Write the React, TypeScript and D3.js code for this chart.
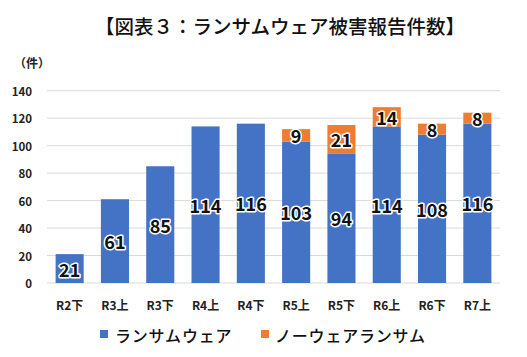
import React from "react";
import * as d3 from "d3";

const categories = ["R2下", "R3上", "R3下", "R4上", "R4下", "R5上", "R5下", "R6上", "R6下", "R7上"];
const ransomware = [21, 61, 85, 114, 116, 103, 94, 114, 108, 116];
const noware = [0, 0, 0, 0, 0, 9, 21, 14, 8, 8];
const yTicks = [0, 20, 40, 60, 80, 100, 120, 140];
const seriesNames = ["ランサムウェア", "ノーウェアランサム"];
const colors = ["#4472C4", "#ED7D31"];
const title = "【図表３：ランサムウェア被害報告件数】";

export default function App() {
  const W = 527, H = 357;
  const left = 47, right = 500, top = 90.7, bottom = 283;
  const x = d3.scaleBand<string>().domain(categories).range([left, right]).paddingInner(0.38).paddingOuter(0.19);
  const y = d3.scaleLinear().domain([0, 140]).range([bottom, top]);
  const font = "'Noto Sans CJK JP', 'Noto Sans', sans-serif";
  const stack = d3.stack<number>().keys(["a", "b"]).value((i, k) => (k === "a" ? ransomware[i] : noware[i]));
  const series = stack(d3.range(categories.length));

  const label = (v: number, cx: number, cy: number, key: string) => (
    <text key={key} x={cx} y={cy} textAnchor="middle" dominantBaseline="central"
      fontFamily={font} fontWeight={700} fontSize={18} fill="#111"
      stroke="#fff" strokeWidth={3} paintOrder="stroke" strokeLinejoin="round">{v}</text>
  );

  return (
    <svg width={W} height={H} style={{ position: "absolute", left: 0, top: 0, background: "#fff" }}>
      <text x={280} y={34} textAnchor="middle" fontFamily={font} fontSize={19.5} fontWeight={500} fill="#111">{title}</text>
      <text x={14} y={68} fontFamily={font} fontSize={12} fontWeight={700} fill="#222">（件）</text>
      {yTicks.map((t) => (
        <g key={t}>
          <line x1={left} x2={right} y1={y(t)} y2={y(t)} stroke="#d9d9d9" strokeWidth={1} />
          <text x={32} y={y(t)} textAnchor="end" dominantBaseline="central" fontFamily={font} fontSize={11.5} fontWeight={700} fill="#222">{t}</text>
        </g>
      ))}
      {series.map((s, si) =>
        s.map((d, i) => {
          const h = y(d[0]) - y(d[1]);
          if (h <= 0) return null;
          return <rect key={`${si}-${i}`} x={x(categories[i])} y={y(d[1])} width={x.bandwidth()} height={h} fill={colors[si]} />;
        })
      )}
      {series.map((s, si) =>
        s.map((d, i) => {
          const v = d[1] - d[0];
          if (v <= 0) return null;
          return label(v, x(categories[i])! + x.bandwidth() / 2, y((d[0] + d[1]) / 2), `l${si}-${i}`);
        })
      )}
      {categories.map((c) => (
        <text key={c} x={x(c)! + x.bandwidth() / 2} y={304} textAnchor="middle" dominantBaseline="central" fontFamily={font} fontSize={12} fontWeight={700} fill="#222">{c}</text>
      ))}
      <rect x={100} y={330} width={8} height={8} fill={colors[0]} />
      <text x={115} y={334.5} dominantBaseline="central" fontFamily={font} fontSize={16} fontWeight={500} letterSpacing={0.8} fill="#111">{seriesNames[0]}</text>
      <rect x={261} y={330} width={8} height={8} fill={colors[1]} />
      <text x={275} y={334.5} dominantBaseline="central" fontFamily={font} fontSize={16} fontWeight={500} letterSpacing={0.8} fill="#111">{seriesNames[1]}</text>
    </svg>
  );
}
